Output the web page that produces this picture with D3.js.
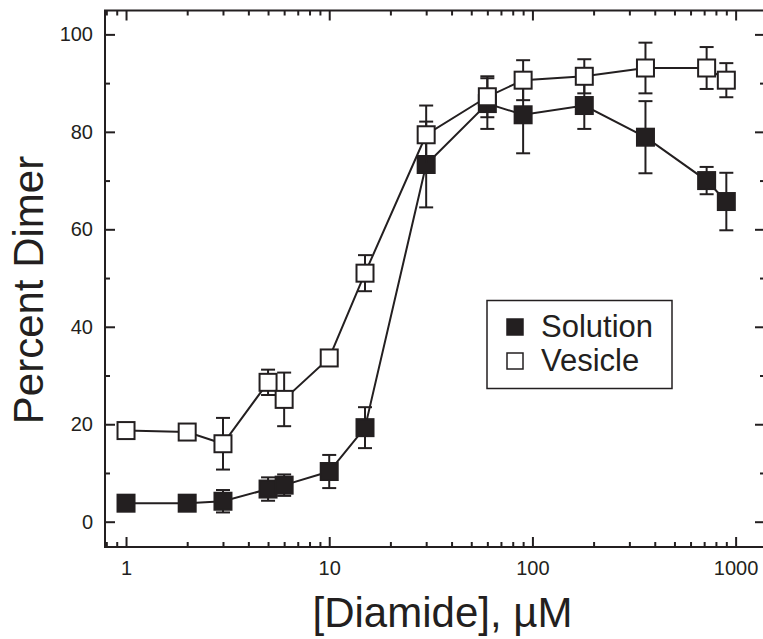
<!DOCTYPE html>
<html>
<head>
<meta charset="utf-8">
<script src="https://cdn.jsdelivr.net/npm/d3@7"></script>
<style>
  body { margin: 0; background: #fff; }
  svg { display: block; font-family: "Liberation Sans", Arial, sans-serif; }
  .tick line { stroke: #231f20; stroke-width: 2; }
  .tick text { fill: #231f20; }
</style>
</head>
<body>
<script>
// Diamide concentration (µM) and percent dimer
const concentrations = [1, 2, 3, 5, 6, 10, 15, 30, 60, 90, 180, 360, 720, 900];
const solution = [3.8, 3.8, 4.2, 6.7, 7.5, 10.3, 19.3, 73.3, 85.8, 83.5, 85.4, 78.9, 70.0, 65.7];
const solutionErr = [1.0, 1.0, 2.3, 2.4, 2.2, 3.4, 4.2, 8.8, 5.2, 7.9, 4.8, 7.4, 2.8, 5.9];
const vesicle = [18.7, 18.4, 16.0, 28.6, 25.1, 33.6, 51.0, 79.4, 87.2, 90.6, 91.4, 93.1, 93.1, 90.6];
const vesicleErr = [1.0, 1.0, 5.3, 2.6, 5.5, 1.0, 3.7, 6.0, 4.2, 4.1, 3.5, 5.2, 4.3, 3.5];
const xMajorTicks = [1, 10, 100, 1000];
const yMajorTicks = [0, 20, 40, 60, 80, 100];
const yMinorTicks = [10, 30, 50, 70, 90];
const seriesNames = ["Solution", "Vesicle"];

const w = 763;
const h = 639;
const margin = {left: 105, top: 10.5, right: 765, bottom: 547};
const ink = "#231f20";

const svg = d3.select("body").append("svg")
              .attr("width", w)
              .attr("height", h);

const xScale = d3.scaleLog()
                 .domain([0.788, 1395])
                 .range([margin.left, margin.right]);
const yScale = d3.scaleLinear()
                 .domain([-5.19, 104.9])
                 .range([margin.bottom, margin.top]);

// minor log ticks 2..9 of each decade (and below 1)
const xMinorTicks = [];
[0.1, 1, 10, 100, 1000].forEach(dec => {
    for (let m = 2; m <= 9; m++) {
        const v = dec * m;
        if (v > xScale.domain()[0] && v < xScale.domain()[1]) xMinorTicks.push(v);
    }
});

function drawAxes() {
    // bottom
    svg.append("g")
       .attr("transform", `translate(0, ${margin.bottom})`)
       .call(d3.axisBottom(xScale).tickValues(xMajorTicks).tickFormat(d3.format("d"))
               .tickSizeInner(-10).tickSizeOuter(0).tickPadding(14))
       .call(g => g.select(".domain").remove())
       .selectAll("text").style("font-size", "20px");
    svg.append("g")
       .attr("transform", `translate(0, ${margin.bottom})`)
       .call(d3.axisBottom(xScale).tickValues(xMinorTicks).tickFormat("")
               .tickSizeInner(-5).tickSizeOuter(0))
       .call(g => g.select(".domain").remove());
    // top
    svg.append("g")
       .attr("transform", `translate(0, ${margin.top})`)
       .call(d3.axisTop(xScale).tickValues(xMajorTicks).tickFormat("")
               .tickSizeInner(-10).tickSizeOuter(0))
       .call(g => g.select(".domain").remove());
    svg.append("g")
       .attr("transform", `translate(0, ${margin.top})`)
       .call(d3.axisTop(xScale).tickValues(xMinorTicks).tickFormat("")
               .tickSizeInner(-5).tickSizeOuter(0))
       .call(g => g.select(".domain").remove());
    // left
    svg.append("g")
       .attr("transform", `translate(${margin.left}, 0)`)
       .call(d3.axisLeft(yScale).tickValues(yMajorTicks)
               .tickSizeInner(-10).tickSizeOuter(0).tickPadding(12))
       .call(g => g.select(".domain").remove())
       .selectAll("text").style("font-size", "20px");
    svg.append("g")
       .attr("transform", `translate(${margin.left}, 0)`)
       .call(d3.axisLeft(yScale).tickValues(yMinorTicks).tickFormat("")
               .tickSizeInner(-5).tickSizeOuter(0))
       .call(g => g.select(".domain").remove());
    // right
    svg.append("g")
       .attr("transform", `translate(${margin.right}, 0)`)
       .call(d3.axisRight(yScale).tickValues(yMajorTicks).tickFormat("")
               .tickSizeInner(-10).tickSizeOuter(0))
       .call(g => g.select(".domain").remove());
    svg.append("g")
       .attr("transform", `translate(${margin.right}, 0)`)
       .call(d3.axisRight(yScale).tickValues(yMinorTicks).tickFormat("")
               .tickSizeInner(-5).tickSizeOuter(0))
       .call(g => g.select(".domain").remove());

    // frame
    svg.append("rect")
       .attr("x", margin.left)
       .attr("y", margin.top)
       .attr("width", margin.right - margin.left)
       .attr("height", margin.bottom - margin.top)
       .attr("fill", "none")
       .attr("stroke", ink)
       .attr("stroke-width", 2);

    svg.append("text")
       .attr("text-anchor", "middle")
       .attr("fill", ink)
       .style("font-size", "42px")
       .text("Percent Dimer")
       .attr("transform", "translate(43, 290) rotate(-90)");

    svg.append("text")
       .attr("text-anchor", "middle")
       .attr("fill", ink)
       .style("font-size", "42px")
       .attr("x", 442.5)
       .attr("y", 627)
       .text("[Diamide], \u00b5M");
}

function drawSeries(values, errs, filled) {
    const data = concentrations.map((c, i) => ({x: c, y: values[i], e: errs[i]}));
    const line = d3.line().x(d => xScale(d.x)).y(d => yScale(d.y));
    const g = svg.append("g");

    g.append("path")
     .datum(data)
     .attr("d", line)
     .attr("fill", "none")
     .attr("stroke", ink)
     .attr("stroke-width", 2);

    const bars = g.selectAll("g.err").data(data).enter().append("g").attr("class", "err")
                  .attr("stroke", ink).attr("stroke-width", 2);
    bars.append("line")
        .attr("x1", d => xScale(d.x)).attr("x2", d => xScale(d.x))
        .attr("y1", d => yScale(d.y - d.e)).attr("y2", d => yScale(d.y + d.e));
    [-1, 1].forEach(s => {
        bars.append("line")
            .attr("x1", d => xScale(d.x) - 7).attr("x2", d => xScale(d.x) + 7)
            .attr("y1", d => yScale(d.y + s * d.e)).attr("y2", d => yScale(d.y + s * d.e));
    });

    const size = 17;
    g.selectAll("rect.pt").data(data).enter().append("rect")
     .attr("class", "pt")
     .attr("x", d => xScale(d.x) - size / 2)
     .attr("y", d => yScale(d.y) - size / 2)
     .attr("width", size)
     .attr("height", size)
     .attr("fill", filled ? ink : "#fff")
     .attr("stroke", ink)
     .attr("stroke-width", 2);
}

function drawLegend() {
    const lg = svg.append("g");
    lg.append("rect")
      .attr("x", 487).attr("y", 300.5)
      .attr("width", 185).attr("height", 88)
      .attr("fill", "#fff").attr("stroke", ink).attr("stroke-width", 1.5);
    seriesNames.forEach((name, i) => {
        lg.append("rect")
          .attr("x", 507).attr("y", 319 + i * 34)
          .attr("width", 16).attr("height", 16)
          .attr("fill", i === 0 ? ink : "#fff")
          .attr("stroke", ink).attr("stroke-width", 1.5);
        lg.append("text")
          .attr("x", 541).attr("y", 337 + i * 34)
          .attr("fill", ink)
          .style("font-size", "31px")
          .text(name);
    });
}

drawAxes();
drawSeries(solution, solutionErr, true);
drawSeries(vesicle, vesicleErr, false);
drawLegend();
</script>
</body>
</html>
